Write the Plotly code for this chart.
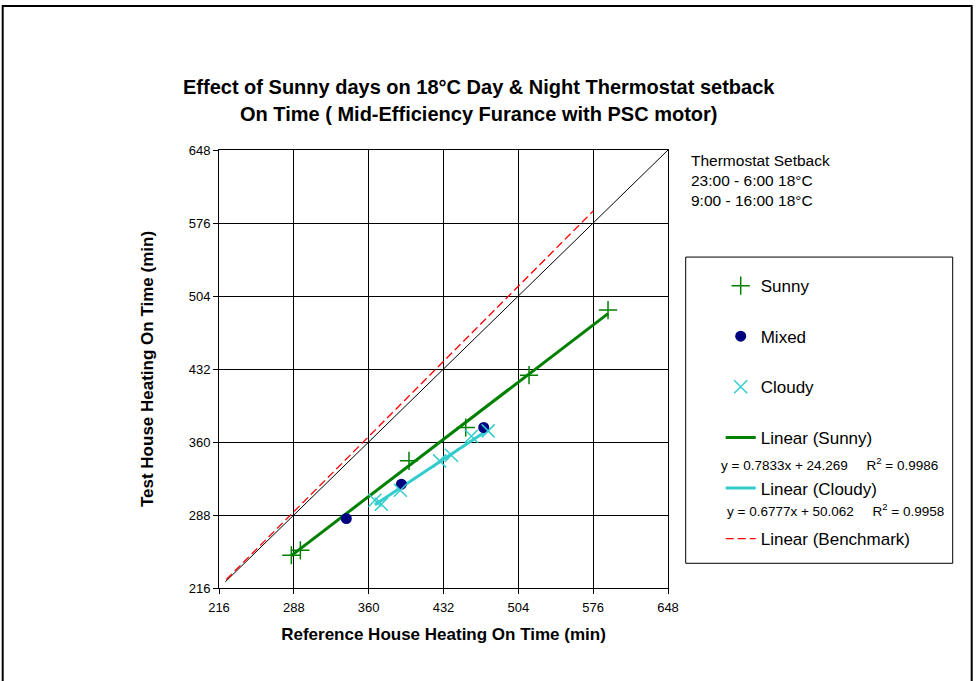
import plotly.graph_objects as go

# ---- data ----
sunny_x = [285.6, 294.3, 398.8, 453.4, 514.3, 590.3]
sunny_y = [248.3, 253.2, 341.4, 374.3, 425.9, 490.1]

mixed_x = [338.5, 391.5, 470.7]
mixed_y = [284.5, 318.4, 374.3]

cloudy_x = [366.0, 372.2, 390.5, 428.3, 439.6, 458.8, 475.0]
cloudy_y = [302.6, 298.6, 312.4, 341.4, 347.0, 365.7, 371.0]

sunny_slope, sunny_icpt = 0.7833, 24.269
cloudy_slope, cloudy_icpt = 0.6777, 50.062

benchmark_x = [223.0, 576.0]
benchmark_y = [224.3, 587.8]

identity_xy = [222.0, 648.0]

tick_vals = [216, 288, 360, 432, 504, 576, 648]

title_lines = ["Effect of Sunny days on 18\u00b0C Day & Night Thermostat setback",
               "On Time ( Mid-Efficiency Furance with PSC motor)"]
note_lines = ["Thermostat Setback", "23:00 - 6:00 18\u00b0C", "9:00 - 16:00 18\u00b0C"]
SP = "\u00a0" * 5
eq_sunny = "y = 0.7833x + 24.269" + SP + "R<sup>2</sup> = 0.9986"
eq_cloudy = "y = 0.6777x + 50.062" + SP + "R<sup>2</sup> = 0.9958"

FONT = "Liberation Sans, Arial, sans-serif"

# ---- pixel helpers (reference pixel coords; body margin removed below) ----
W, H = 976, 681
L, R, T, B = 219.3, 668.3, 150.0, 587.7


def px(x):
    return (x - L) / (R - L)


def py(y):
    return (B - y) / (B - T)


sx = [min(sunny_x), max(sunny_x)]
sy = [sunny_slope * v + sunny_icpt for v in sx]
cx = [min(cloudy_x), max(cloudy_x)]
cy = [cloudy_slope * v + cloudy_icpt for v in cx]

fig = go.Figure()

fig.add_trace(go.Scatter(x=identity_xy, y=identity_xy, mode="lines",
                         line=dict(color="black", width=1), showlegend=False,
                         hoverinfo="skip"))
fig.add_trace(go.Scatter(x=benchmark_x, y=benchmark_y, mode="lines",
                         name="Linear (Benchmark)", legendrank=6, legendgroup="g6",
                         line=dict(color="#FF0000", width=1.3, dash="8px,4px")))
fig.add_trace(go.Scatter(x=sx, y=sy, mode="lines", name="Linear (Sunny)",
                         legendrank=4, legendgroup="g4",
                         line=dict(color="#008000", width=3)))
fig.add_trace(go.Scatter(x=cx, y=cy, mode="lines", name="Linear (Cloudy)",
                         legendrank=5, legendgroup="g5",
                         line=dict(color="#33CCCC", width=3)))
fig.add_trace(go.Scatter(x=sunny_x, y=sunny_y, mode="markers", name="Sunny",
                         legendrank=1, legendgroup="g1",
                         marker=dict(symbol="cross-thin", size=13,
                                     line=dict(color="#008000", width=1.5))))
fig.add_trace(go.Scatter(x=mixed_x, y=mixed_y, mode="markers", name="Mixed",
                         legendrank=2, legendgroup="g2",
                         marker=dict(symbol="circle", size=11, color="#000080")))
fig.add_trace(go.Scatter(x=cloudy_x, y=cloudy_y, mode="markers", name="Cloudy",
                         legendrank=3, legendgroup="g3",
                         marker=dict(symbol="x-thin", size=13,
                                     line=dict(color="#33CCCC", width=1.5))))

axis_common = dict(range=[216, 648], tickvals=tick_vals, showgrid=True,
                   gridcolor="black", gridwidth=1, showline=True, linecolor="black",
                   linewidth=1, mirror=True, ticks="outside", ticklen=5,
                   tickcolor="black", zeroline=False,
                   tickfont=dict(family=FONT, size=13, color="black"))

fig.update_xaxes(**axis_common, ticklabelstandoff=2,
                 title=dict(text="<b>Reference House Heating On Time (min)</b>",
                            font=dict(family=FONT, size=17, color="black"), standoff=14))
fig.update_yaxes(**axis_common,
                 title=dict(text="<b>Test House Heating On Time (min)</b>",
                            font=dict(family=FONT, size=17, color="black"), standoff=30))

annotations = []
for t, yy in zip(title_lines, [87, 114]):
    annotations.append(dict(text="<b>" + t + "</b>", x=px(479), y=py(yy), xref="paper",
                            yref="paper", showarrow=False, xanchor="center",
                            yanchor="middle",
                            font=dict(family=FONT, size=20, color="black")))
for t, yy in zip(note_lines, [160, 180, 200]):
    annotations.append(dict(text=t, x=px(689), y=py(yy), xref="paper", yref="paper",
                            showarrow=False, xanchor="left", yanchor="middle",
                            font=dict(family=FONT, size=15.5, color="black")))
annotations.append(dict(text=eq_sunny, x=px(830), y=py(464), xref="paper", yref="paper",
                        showarrow=False, xanchor="center", yanchor="middle",
                        font=dict(family=FONT, size=13.5, color="black")))
annotations.append(dict(text=eq_cloudy, x=px(836), y=py(510), xref="paper", yref="paper",
                        showarrow=False, xanchor="center", yanchor="middle",
                        font=dict(family=FONT, size=13.5, color="black")))

shapes = [
    dict(type="rect", xref="paper", yref="paper", x0=px(686), x1=px(953),
         y0=py(563), y1=py(257), line=dict(color="black", width=1)),
    dict(type="rect", xref="paper", yref="paper", x0=px(3), x1=px(972),
         y0=py(700), y1=py(6), line=dict(color="black", width=2)),
]

fig.update_layout(
    width=W, height=H,
    margin=dict(l=L, r=W - R, t=T, b=H - B, pad=0),
    paper_bgcolor="white", plot_bgcolor="white",
    font=dict(family=FONT, color="black"),
    showlegend=True,
    legend=dict(x=px(721), y=py(268), xanchor="left", yanchor="top",
                bgcolor="rgba(0,0,0,0)", borderwidth=0, tracegroupgap=25.5,
                font=dict(family=FONT, size=17, color="black"),
                traceorder="grouped", itemsizing="trace"),
    annotations=annotations, shapes=shapes,
)

fig.write_html("out.html", config={"displayModeBar": False},
               post_script="document.body.style.margin='0';document.body.style.padding='0';")
